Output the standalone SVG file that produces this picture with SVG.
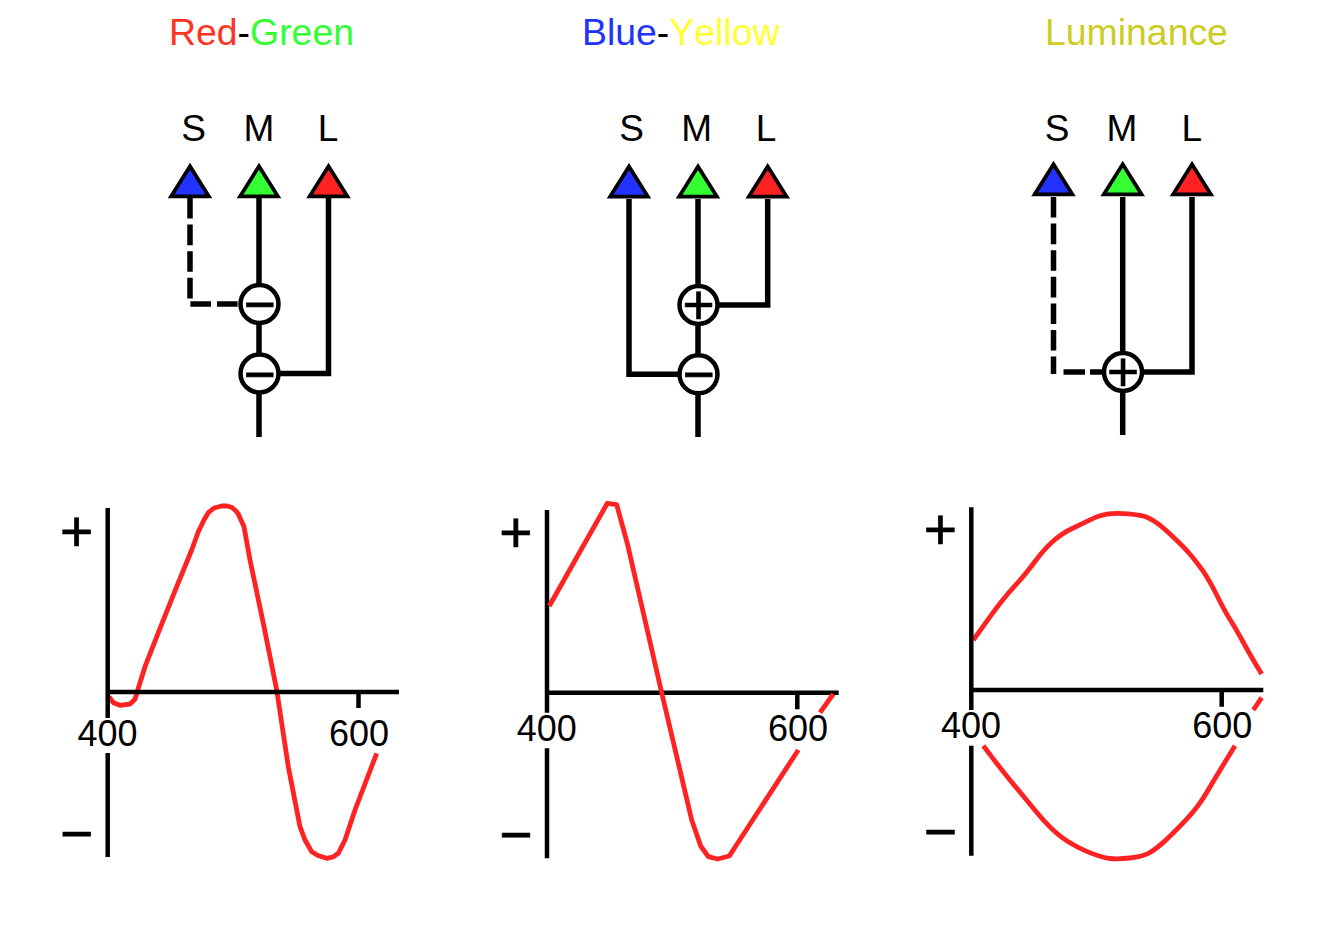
<svg xmlns="http://www.w3.org/2000/svg" width="1334" height="928" viewBox="0 0 1334 928">
<style>
text{font-family:"Liberation Sans",Arial,sans-serif;fill:#000;text-anchor:middle}
.title{font-size:37.4px;text-anchor:start;font-kerning:none}
.cone{font-size:37px}
.tick{font-size:36px}
.sign{font-size:57px;stroke:#000;stroke-width:.7}
.op{font-size:55px;stroke:#000;stroke-width:.7}
.wire{fill:none;stroke:#000;stroke-width:5.5}
.dash{stroke-dasharray:20.6 6}
.axis{fill:none;stroke:#000;stroke-width:4.5}
.curve{fill:none;stroke:#ff2222;stroke-width:4.8;stroke-linejoin:round}
.tri{stroke:#000;stroke-width:3.8}
.ring{fill:#fff;stroke:#000;stroke-width:4.5}
.s{fill:#2233ff}.m{fill:#33ff33}.l{fill:#ff2222}
</style>
<defs><path id="tri" d="M0 0L18.85 30H-18.85Z"/></defs>
<rect width="1334" height="928" fill="#fff"/>
<g id="titles">
<text class="title" x="169" y="44.5"><tspan style="fill:#ff3322">Red</tspan>-<tspan style="fill:#33ff33">Green</tspan></text>
<text class="title" x="582" y="44.5"><tspan style="fill:#2233ff">Blue</tspan>-<tspan style="fill:#ffff33">Yellow</tspan></text>
<text class="title" x="1045" y="44.5" style="fill:#cccc22">Luminance</text>
</g>
<g id="connectors">
<path class="wire dash" d="M190 198V304H241"/>
<path class="wire" d="M259 198V437M328.5 198V373.5H278"/>
<path class="wire" d="M698 199V437M767.7 199V305H717M629 199V374.3H679"/>
<path class="wire dash" d="M1053.5 197V374"/>
<path class="wire" d="M1063.5 372H1085M1090 372H1104M1122.7 197V435M1192 197V372H1141"/>
</g>
<g id="rg-s"><use href="#tri" class="tri s" x="190" y="166.3"/><text class="cone" x="193.5" y="140.5">S</text></g>
<g id="rg-m"><use href="#tri" class="tri m" x="259" y="166.3"/><text class="cone" x="259" y="140.5">M</text></g>
<g id="rg-l"><use href="#tri" class="tri l" x="328.5" y="166.3"/><text class="cone" x="328" y="140.5">L</text></g>
<g id="rg-op1"><circle class="ring" cx="259.5" cy="304" r="19"/><text class="op" x="259.5" y="323">−</text></g>
<g id="rg-op2"><circle class="ring" cx="259.5" cy="373.5" r="19"/><text class="op" x="259.5" y="392.5">−</text></g>
<g id="by-s"><use href="#tri" class="tri s" x="629" y="166.6"/><text class="cone" x="631.7" y="140.5">S</text></g>
<g id="by-m"><use href="#tri" class="tri m" x="698" y="166.6"/><text class="cone" x="696.7" y="140.5">M</text></g>
<g id="by-l"><use href="#tri" class="tri l" x="767.7" y="166.6"/><text class="cone" x="766" y="140.5">L</text></g>
<g id="by-op1"><circle class="ring" cx="698.5" cy="305" r="19"/><text class="op" x="698.5" y="324">+</text></g>
<g id="by-op2"><circle class="ring" cx="698.5" cy="374.3" r="19"/><text class="op" x="698.5" y="393.3">−</text></g>
<g id="lum-s"><use href="#tri" class="tri s" x="1053.5" y="164.3"/><text class="cone" x="1057" y="140.5">S</text></g>
<g id="lum-m"><use href="#tri" class="tri m" x="1122.7" y="164.3"/><text class="cone" x="1122" y="140.5">M</text></g>
<g id="lum-l"><use href="#tri" class="tri l" x="1192" y="164.3"/><text class="cone" x="1191.7" y="140.5">L</text></g>
<g id="lum-op"><circle class="ring" cx="1123" cy="372" r="19"/><text class="op" x="1123" y="391">+</text></g>
<g id="plot-rg">
<polyline class="curve" points="109,696.7 113.3,702.7 120,705.3 130,704 135,699.3 138.3,688.3 145,666.7 160,628.3 176.7,586.7 191.7,550 198.3,531.7 204,520 208.3,512.7 214,508 221.7,506 227,506 231.7,507.3 236,511 238.3,514 244,526.7 250,560 263.3,623.3 276.7,690 288.3,766.7 300,826.7 305,840 311.7,851.7 318,855.5 326.7,858.3 333,857 338.3,853.3 345,840 355,810 376.7,753.3"/>
<path class="axis" d="M107.7 508V718M107.7 753V857M106 692H399M358.5 692V708"/>
<text class="sign" x="76.7" y="551">+</text><text class="sign" x="76.7" y="853">−</text>
<text class="tick" x="107.5" y="746">400</text><text class="tick" x="359" y="746">600</text>
</g>
<g id="plot-by">
<path class="axis" d="M547 510V712.7M547 748.3V858.3M545 692.7H838.7M797.3 692.7V709.3"/>
<polyline class="curve" points="549.3,606 607.3,503.3 616.7,504.7 627.3,543.3 661.7,692.7 691.7,820 700.7,846 708.3,856.7 717.7,859 729.3,856 798.3,750"/>
<polyline class="curve" points="820,712.7 833.3,694"/>
<text class="sign" x="516" y="552.3">+</text><text class="sign" x="516" y="854">−</text>
<text class="tick" x="546.7" y="741">400</text><text class="tick" x="798" y="741">600</text>
</g>
<g id="plot-lum">
<path class="curve" d="M973.3 640L988.3 619.2Q1003.3 598.3 1014.2 586.7Q1025 575 1034.2 562.5Q1043.3 550 1052.5 541.7Q1061.7 533.3 1071.7 528.7Q1081.7 524 1090 519.9Q1098.3 515.7 1106.7 514.2Q1115 512.7 1128.4 513.9Q1141.7 515 1147.5 517.5Q1153.3 520 1159.2 524.7Q1165 529.3 1175 538.8Q1185 548.3 1190 554.2Q1195 560 1201.7 569.2Q1208.3 578.3 1216.7 595Q1225 611.7 1230 619.5Q1235 627.3 1241.7 639.5Q1248.3 651.7 1255 662.9L1261.7 674"/>
<path class="curve" d="M983.3 745.7L992.5 757.9Q1001.7 770 1013.4 784.2Q1025 798.3 1037.5 813.3Q1050 828.3 1060.9 836.7Q1071.7 845 1086.7 851.4Q1101.7 857.7 1110 858.5Q1118.3 859.3 1130 858Q1141.7 856.7 1148.4 853.4Q1155 850 1165 840.9Q1175 831.7 1186.7 819.2Q1198.3 806.7 1206.7 792.5Q1215 778.3 1225 762L1235 745.7"/>
<polyline class="curve" points="1253.3,710 1261.7,697.7"/>
<path class="axis" d="M971.3 507.3V710M971.3 745.7V855.7M969.5 690H1263.3M1221.7 690V706.7"/>
<text class="sign" x="940.3" y="549.3">+</text><text class="sign" x="940.3" y="851">−</text>
<text class="tick" x="971" y="738">400</text><text class="tick" x="1222.3" y="738">600</text>
</g>
</svg>
